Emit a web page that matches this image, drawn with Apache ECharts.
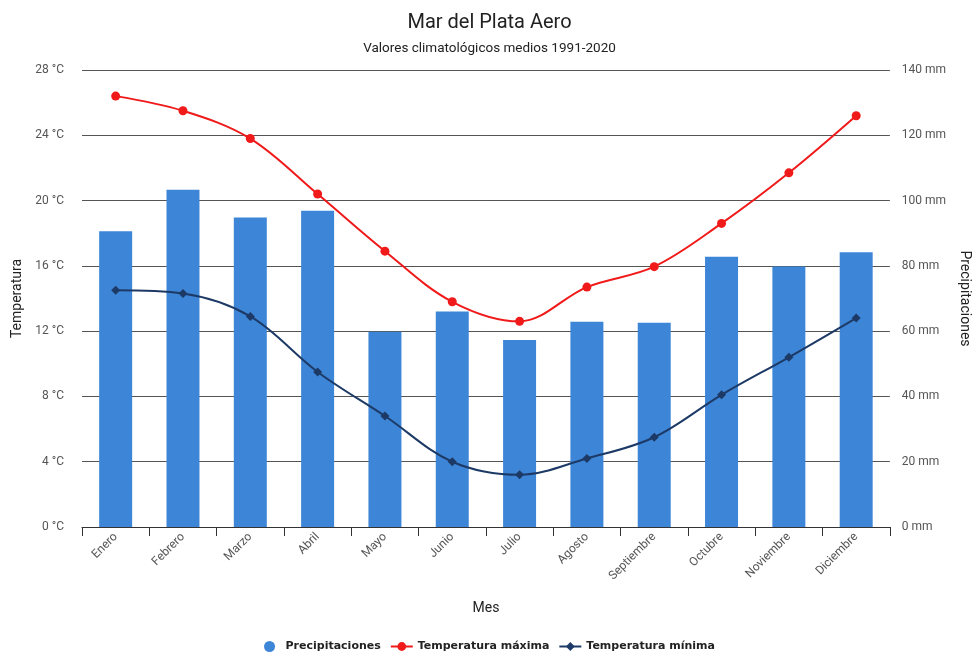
<!DOCTYPE html>
<html>
<head>
<meta charset="utf-8">
<script src="https://cdn.jsdelivr.net/npm/echarts@6/dist/echarts.min.js"></script>
<style>
  html, body { margin: 0; padding: 0; background: #fff; }
  #chart { width: 979px; height: 652px; }
</style>
</head>
<body>
<div id="chart"></div>
<script>
// Monthly climate normals, Mar del Plata Aero 1991-2020
const months = ['Enero', 'Febrero', 'Marzo', 'Abril', 'Mayo', 'Junio', 'Julio',
  'Agosto', 'Septiembre', 'Octubre', 'Noviembre', 'Diciembre'];
const precipitation = [90.6, 103.3, 94.8, 96.9, 59.8, 66.0, 57.3, 62.9, 62.6, 82.8, 79.8, 84.2];
const tempMax = [26.4, 25.5, 23.8, 20.4, 16.9, 13.8, 12.6, 14.7, 15.95, 18.6, 21.7, 25.2];
const tempMin = [14.5, 14.3, 12.9, 9.5, 6.8, 4.0, 3.2, 4.2, 5.5, 8.1, 10.4, 12.8];

const FONT = 'Roboto, "Noto Sans", sans-serif';

const chart = echarts.init(document.getElementById('chart'), null, { renderer: 'canvas' });

chart.setOption({
  animation: false,
  textStyle: { fontFamily: FONT },
  title: {
    text: 'Mar del Plata Aero',
    subtext: 'Valores climatológicos medios 1991-2020',
    left: 'center',
    top: 8,
    itemGap: 9,
    textStyle: { fontFamily: FONT, fontSize: 20, fontWeight: 'normal', color: '#222' },
    subtextStyle: { fontFamily: FONT, fontSize: 13.5, color: '#222' }
  },
  legend: {
    top: 636,
    left: 'center',
    itemGap: 9,
    itemWidth: 22,
    itemHeight: 11,
    textStyle: { fontFamily: '"DejaVu Sans", sans-serif', fontSize: 11, fontWeight: 'bold', color: '#222' },
    data: [
      { name: 'Precipitaciones', icon: 'circle' },
      { name: 'Temperatura máxima' },
      { name: 'Temperatura mínima' }
    ]
  },
  grid: { left: 82, right: 80, top: 70, bottom: 125 },
  xAxis: {
    type: 'category',
    data: months,
    name: 'Mes',
    nameLocation: 'middle',
    nameGap: 74,
    nameTextStyle: { fontFamily: FONT, fontSize: 14, color: '#222' },
    axisLine: { lineStyle: { color: '#333', width: 1 } },
    axisTick: { show: true, length: 9, lineStyle: { color: '#333' } },
    axisLabel: { rotate: 45, fontSize: 12, color: '#555', margin: 8 }
  },
  yAxis: [
    {
      type: 'value',
      min: 0, max: 28, interval: 4,
      name: 'Temperatura',
      nameLocation: 'middle',
      nameGap: 58,
      nameTextStyle: { fontFamily: FONT, fontSize: 14, color: '#222' },
      axisLine: { show: false },
      axisTick: { show: false },
      axisLabel: { formatter: '{value} °C', fontSize: 12, color: '#555', margin: 18 },
      splitLine: { show: true, lineStyle: { color: '#555', width: 1 } }
    },
    {
      type: 'value',
      min: 0, max: 140, interval: 20,
      name: 'Precipitaciones',
      nameLocation: 'middle',
      nameGap: 66,
      nameRotate: -90,
      nameTextStyle: { fontFamily: FONT, fontSize: 14, color: '#222' },
      axisLine: { show: false },
      axisTick: { show: false },
      axisLabel: { formatter: '{value} mm', fontSize: 12, color: '#555', margin: 12 },
      splitLine: { show: false }
    }
  ],
  series: [
    {
      name: 'Precipitaciones',
      type: 'bar',
      yAxisIndex: 1,
      data: precipitation,
      barWidth: '49%',
      itemStyle: { color: '#3d85d6' },
      z: 2
    },
    {
      name: 'Temperatura máxima',
      type: 'line',
      yAxisIndex: 0,
      data: tempMax,
      smooth: 0.35,
      symbol: 'circle',
      symbolSize: 9,
      lineStyle: { color: '#f01a1a', width: 2 },
      itemStyle: { color: '#f01a1a' },
      z: 3
    },
    {
      name: 'Temperatura mínima',
      type: 'line',
      yAxisIndex: 0,
      data: tempMin,
      smooth: 0.35,
      symbol: 'diamond',
      symbolSize: 9,
      lineStyle: { color: '#1d3a66', width: 2 },
      itemStyle: { color: '#1d3a66' },
      z: 3
    }
  ]
});
</script>
</body>
</html>
